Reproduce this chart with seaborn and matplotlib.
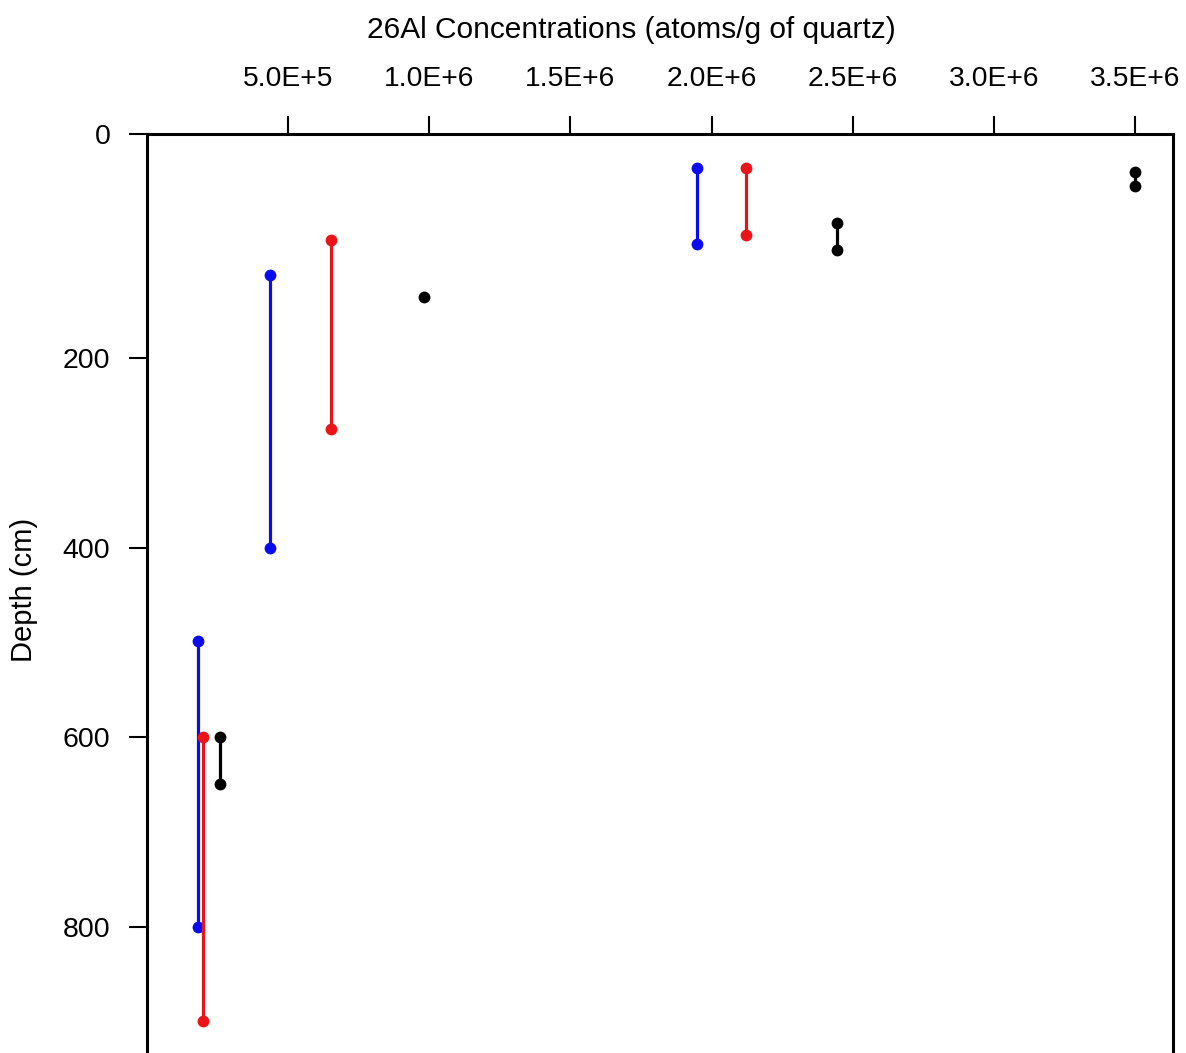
import numpy as np
import pandas as pd
import matplotlib
matplotlib.use("Agg")
import matplotlib.pyplot as plt
import seaborn as sns
from matplotlib.ticker import FuncFormatter

# ---- data ----
series_names = ["blue", "red", "black"]
blue_conc = [1.95e6, 4.36e5, 1.84e5]
blue_top = [0, 112, 499]
blue_bottom = [80, 400, 800]
red_conc = [2.12e6, 6.52e5, 1.99e5]
red_top = [0, 76, 600]
red_bottom = [70, 275, 900]
black_conc = [3.50e6, 2.445e6, 9.81e5, 2.585e5]
black_top = [4, 58, 136, 600]
black_bottom = [19, 86, 136, 650]

x_ticks = [5e5, 1e6, 1.5e6, 2e6, 2.5e6, 3e6, 3.5e6]
y_tick_labels = ["0", "200", "400", "600", "800"]
x_label = "26Al Concentrations (atoms/g of quartz)"
y_label = "Depth (cm)"

colors = {"blue": "#0b0bf2", "red": "#ea1418", "black": "#000000"}

rows = []
seg = 0
for name, conc, top, bot in [("blue", blue_conc, blue_top, blue_bottom),
                             ("red", red_conc, red_top, red_bottom),
                             ("black", black_conc, black_top, black_bottom)]:
    for c, t, b in zip(conc, top, bot):
        rows.append({"series": name, "seg": seg, "conc": c, "depth": t})
        if b != t:
            rows.append({"series": name, "seg": seg, "conc": c, "depth": b})
        seg += 1
df = pd.DataFrame(rows)

sns.set_style("ticks")
plt.rcParams["font.family"] = ["Liberation Sans", "DejaVu Sans"]
plt.rcParams["text.color"] = "black"
plt.rcParams["axes.labelcolor"] = "black"
plt.rcParams["xtick.color"] = "black"
plt.rcParams["ytick.color"] = "black"

W, H = 1186, 1053
fig = plt.figure(figsize=(W / 100, H / 100), dpi=100)
ax = fig.add_axes([146.5 / W, 0.0, (1173 - 146.5) / W, (H - 134) / H])

sns.lineplot(data=df, x="conc", y="depth", hue="series", units="seg",
             estimator=None, sort=False, palette=colors, hue_order=series_names,
             marker="o", markersize=8.5, markeredgewidth=0, linewidth=2.3,
             legend=False, ax=ax)

y_top = -36.3
ax.set_xlim(0, 3.633e6)
ax.set_ylim(933.3, y_top)

ax.xaxis.tick_top()
ax.xaxis.set_label_position("top")
ax.set_xticks(x_ticks)

def fmt(v, pos):
    m, e = f"{v:.1E}".split("E")
    return f"{m}E+{int(e)}"
ax.xaxis.set_major_formatter(FuncFormatter(fmt))

ax.set_yticks([y_top, 200, 400, 600, 800])
ax.set_yticklabels(y_tick_labels)

ax.tick_params(axis="x", which="major", direction="out", length=13, width=1.5,
               pad=17, labelsize=20.3, top=True, bottom=False, colors="black")
ax.tick_params(axis="y", which="major", direction="out", length=13, width=1.5,
               pad=13, labelsize=20.5, colors="black")

for s in ["left", "right", "top"]:
    ax.spines[s].set_linewidth(2.2)
    ax.spines[s].set_color("black")
ax.spines["bottom"].set_visible(False)

ax.set_xlabel(x_label, fontsize=21.5, color="black")
ax.set_ylabel(y_label, fontsize=21, color="black")
ax.xaxis.label.set_va("center")
ax.yaxis.label.set_va("center")
ax.xaxis.set_label_coords(0.472, 1.113)
ax.yaxis.set_label_coords(-0.119, 0.504)

fig.savefig("out.png", dpi=100)
